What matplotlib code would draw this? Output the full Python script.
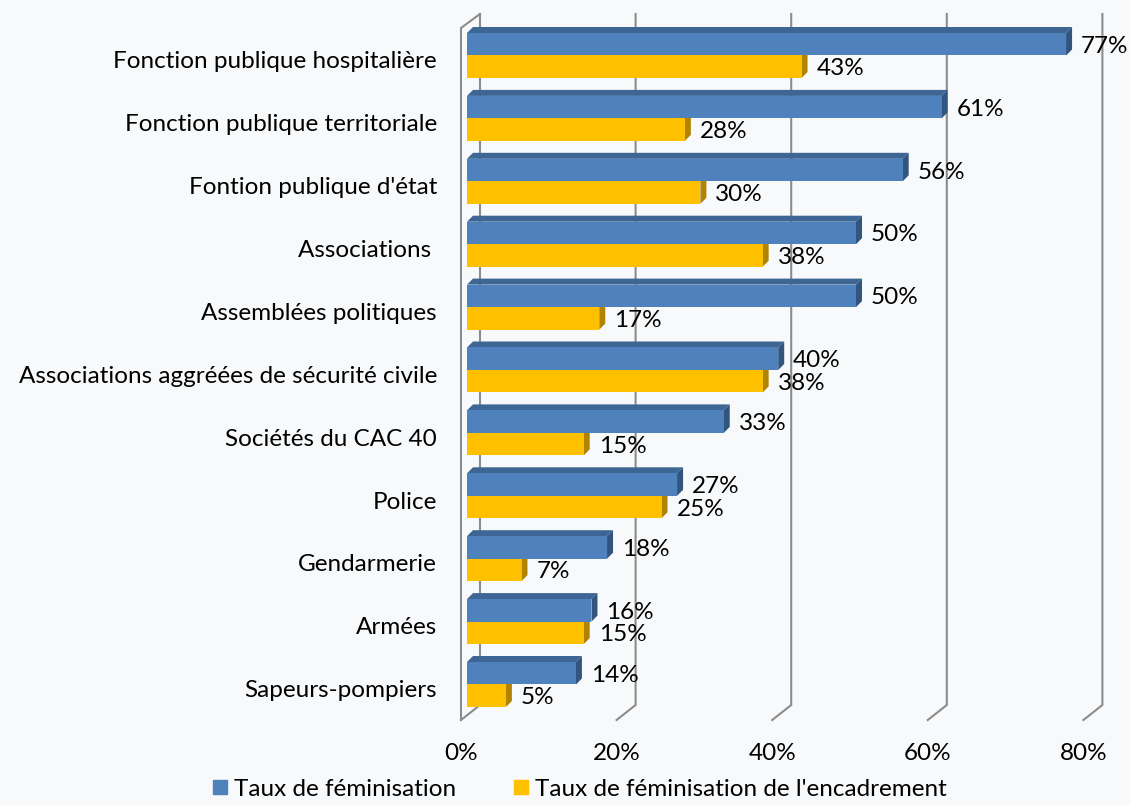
import numpy as np
import matplotlib.pyplot as plt
from matplotlib.patches import Polygon, Patch

plt.rcParams['font.family'] = ['Lato', 'DejaVu Sans']

categories = ["Fonction publique hospitalière", "Fonction publique territoriale",
              "Fontion publique d'état", "Associations ", "Assemblées politiques",
              "Associations aggréées de sécurité civile", "Sociétés du CAC 40",
              "Police", "Gendarmerie", "Armées", "Sapeurs-pompiers"]
fem = [77, 61, 56, 50, 50, 40, 33, 27, 18, 16, 14]   # Taux de féminisation
enc = [43, 28, 30, 38, 17, 38, 15, 25, 7, 15, 5]     # ... de l'encadrement
ticks = [0, 20, 40, 60, 80]

bg = '#f8f9fb'
grid = '#8c8c8c'
blue, blue_top, blue_side = '#4f81bd', '#3d6694', '#31557f'
yel, yel_top, yel_side = '#ffc000', '#cc9a00', '#b08400'
fs = 17.5

W, H = 1130, 805
fig = plt.figure(figsize=(W/100, H/100), dpi=100, facecolor=bg)
ax = fig.add_axes([467/W, 0, 622.4/W, 1])
ax.set_facecolor(bg)
pitch, y0 = 62.9, 55.5
ax.set_xlim(0, 80)
ax.set_ylim((H - y0)/pitch, -y0/pitch)
ax.axis('off')

px_x = 80/622.4       # data units per pixel, x
px_y = 1/pitch        # data units per pixel, y (downwards)
ypx = lambda py: (py - y0)/pitch

# back wall grid + floor diagonals
back, front = 13*px_x, -6*px_x
for v in ticks:
    ax.plot([v + back, v + back, v + front], [ypx(14), ypx(705), ypx(720)],
            color=grid, lw=1.5, zorder=1, clip_on=False, solid_joinstyle='miter')
ax.plot([front, front, back], [ypx(720), ypx(28), ypx(14)],
        color=grid, lw=1.5, zorder=1, clip_on=False, solid_joinstyle='miter')

# bars with a little depth
h = 22.5/pitch
dx, dy = 6*px_x, 6*px_y
y = np.arange(len(categories))

def faces(tops, vals, c_top, c_side, z):
    for t, v in zip(tops, vals):
        b = t + h
        ax.add_patch(Polygon([(0, t), (v, t), (v + dx, t - dy), (dx, t - dy)],
                             closed=True, color=c_top, lw=0, zorder=z))
        ax.add_patch(Polygon([(v, t), (v, b), (v + dx, b - dy), (v + dx, t - dy)],
                             closed=True, color=c_side, lw=0, zorder=z))

faces(y, enc, yel_top, yel_side, 2)
ax.barh(y + h/2, enc, height=h, color=yel, zorder=2)
faces(y - h, fem, blue_top, blue_side, 3)
ax.barh(y - h/2, fem, height=h, color=blue, zorder=3)

for i in y:
    ax.text(fem[i] + 15*px_x, i - h/2 + 2*px_y, f'{fem[i]}%', ha='left', va='center',
            fontsize=fs, zorder=5)
    ax.text(enc[i] + 15*px_x, i + h/2 + 2*px_y, f'{enc[i]}%', ha='left', va='center',
            fontsize=fs, zorder=5)
    ax.text(-30*px_x, i + 0.1, categories[i], ha='right', va='center', fontsize=fs)

for v in ticks:
    ax.text(v + front, ypx(753), f'{v}%', ha='center', va='center', fontsize=fs)

fig.legend(handles=[Patch(color=blue, label='Taux de féminisation'),
                    Patch(color=yel, label="Taux de féminisation de l'encadrement")],
           loc='center', bbox_to_anchor=(580/W, 1 - 789/H), ncol=2, frameon=False,
           handlelength=0.55, handleheight=0.55, handletextpad=0.3,
           columnspacing=2.4, fontsize=fs)

fig.savefig('out.png', dpi=100, facecolor=bg)
